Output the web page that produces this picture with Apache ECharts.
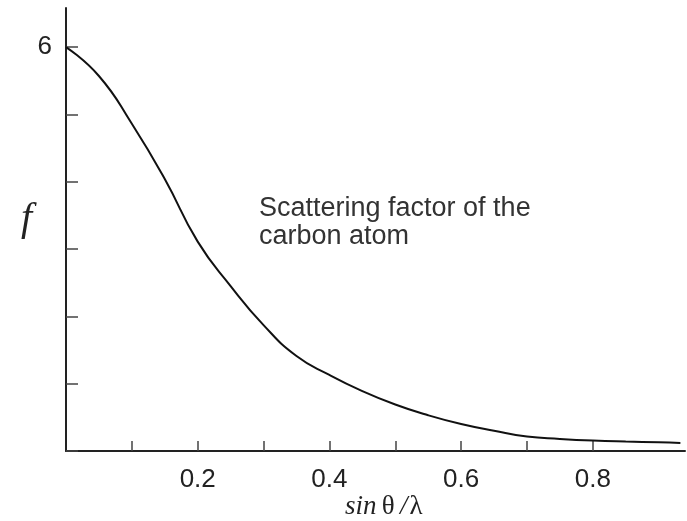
<!DOCTYPE html>
<html>
<head>
<meta charset="utf-8">
<style>
html,body{margin:0;padding:0;background:#fff;}
#chart{width:687px;height:521px;}
</style>
<script src="https://cdn.jsdelivr.net/npm/echarts@6/dist/echarts.min.js"></script>
</head>
<body>
<div id="chart"></div>
<script>
// Data
const sinThetaOverLambda = [0, 0.05, 0.1, 0.15, 0.2, 0.25, 0.3, 0.35, 0.4, 0.45, 0.5, 0.55, 0.6, 0.65, 0.7, 0.75, 0.8, 0.85, 0.9, 0.933];
const scatteringF        = [6.0, 5.57, 4.86, 4.04, 3.11, 2.45, 1.87, 1.41, 1.13, 0.89, 0.69, 0.53, 0.40, 0.30, 0.215, 0.18, 0.155, 0.14, 0.13, 0.12];
const xTickValues  = [0.1, 0.2, 0.3, 0.4, 0.5, 0.6, 0.7, 0.8];
const xLabelValues = [0.2, 0.4, 0.6, 0.8];
const yTickValues  = [0, 1, 2, 3, 4, 5, 6];
const yLabelValues = [6];
const annotationLines = ['Scattering factor of the', 'carbon atom'];

const points = sinThetaOverLambda.map((x, i) => [x, scatteringF[i]]);

const chart = echarts.init(document.getElementById('chart'), null, {renderer: 'canvas'});
const axisColor = '#222';
chart.setOption({
  animation: false,
  backgroundColor: '#ffffff',
  grid: {left: 66, right: 2, top: 8, bottom: 70, containLabel: false},
  xAxis: {
    type: 'value', min: 0, max: 0.94,
    axisLine: {show: true, onZero: false, lineStyle: {color: axisColor, width: 2}},
    axisTick: {show: true, inside: true, length: 10, customValues: xTickValues, lineStyle: {color: '#444', width: 1.5}},
    axisLabel: {show: true, customValues: xLabelValues, margin: 16, fontSize: 26, color: '#222',
      fontFamily: 'Liberation Sans', formatter: v => v.toFixed(1)},
    splitLine: {show: false}
  },
  yAxis: {
    type: 'value', min: 0, max: 6.58,
    axisLine: {show: true, onZero: false, lineStyle: {color: axisColor, width: 2}},
    axisTick: {show: true, inside: true, length: 12, customValues: yTickValues, lineStyle: {color: '#444', width: 1.5}},
    axisLabel: {show: true, customValues: yLabelValues, margin: 14, fontSize: 26, color: '#222',
      fontFamily: 'Liberation Sans'},
    splitLine: {show: false}
  },
  series: [{
    type: 'line',
    data: points,
    smooth: 0.5,
    showSymbol: false,
    lineStyle: {color: '#111', width: 2}
  }],
  graphic: [
    {type: 'text', left: 21, top: 199, style: {text: 'f', font: 'italic 40px "Liberation Serif"', fill: '#222'}},
    {type: 'text', left: 345, top: 493, style: {
      text: '{i|sin} {n|θ} {i|/}{n|λ}',
      rich: {
        i: {font: 'italic 27px "Liberation Serif"', fill: '#222'},
        n: {font: '27px "Liberation Serif"', fill: '#222', padding: [0, 2, 0, 2]}
      }
    }},
    {type: 'text', left: 259, top: 195, style: {
      text: annotationLines.join('\n'),
      font: '27px "Liberation Sans"', lineHeight: 28, fill: '#333'
    }}
  ]
});
</script>
</body>
</html>
